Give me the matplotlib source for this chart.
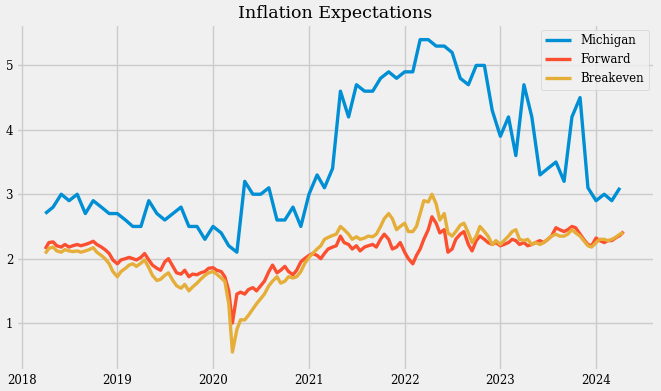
import matplotlib
matplotlib.use('Agg')
import matplotlib.pyplot as plt
import pandas as pd

# University of Michigan 1-year inflation expectations, monthly Apr 2018 - Apr 2024
michigan = [2.7, 2.8, 3.0, 2.9, 3.0, 2.7, 2.9, 2.8, 2.7,
            2.7, 2.6, 2.5, 2.5, 2.9, 2.7, 2.6, 2.7, 2.8, 2.5, 2.5, 2.3,
            2.5, 2.4, 2.2, 2.1, 3.2, 3.0, 3.0, 3.1, 2.6, 2.6, 2.8, 2.5,
            3.0, 3.3, 3.1, 3.4, 4.6, 4.2, 4.7, 4.6, 4.6, 4.8, 4.9, 4.8,
            4.9, 4.9, 5.4, 5.4, 5.3, 5.3, 5.2, 4.8, 4.7, 5.0, 5.0, 4.3,
            3.9, 4.2, 3.6, 4.7, 4.2, 3.3, 3.4, 3.5, 3.2, 4.2, 4.5, 3.1,
            2.9, 3.0, 2.9, 3.1]
mich_dates = pd.date_range('2018-04-01', periods=len(michigan), freq='MS')

# 5y5y forward inflation, read twice a month (1st and 15th)
forward = [2.15, 2.25, 2.26, 2.20, 2.18, 2.22, 2.18, 2.20, 2.22, 2.20,
           2.22, 2.24, 2.27, 2.22, 2.18, 2.14, 2.08, 1.98,
           1.92, 1.98, 2.00, 2.02, 2.00, 1.98, 2.02, 2.08, 1.98, 1.90,
           1.85, 1.82, 1.95, 2.00, 1.88, 1.78, 1.76, 1.82, 1.72, 1.76,
           1.75, 1.78, 1.80, 1.85,
           1.86, 1.82, 1.80, 1.72, 1.50, 1.00, 1.45, 1.48, 1.45, 1.52,
           1.55, 1.50, 1.58, 1.65, 1.80, 1.90, 1.78, 1.82, 1.88, 1.80,
           1.75, 1.82, 1.95, 2.00,
           2.05, 2.08, 2.05, 2.00, 2.08, 2.15, 2.18, 2.20, 2.35, 2.25,
           2.22, 2.15, 2.20, 2.12, 2.18, 2.20, 2.22, 2.18, 2.30, 2.38,
           2.30, 2.15, 2.18, 2.25,
           2.10, 2.00, 1.92, 2.05, 2.15, 2.30, 2.45, 2.65, 2.55, 2.40,
           2.45, 2.10, 2.15, 2.30, 2.38, 2.42, 2.22, 2.12, 2.28, 2.35,
           2.30, 2.25, 2.22, 2.25,
           2.20, 2.22, 2.25, 2.30, 2.28, 2.22, 2.25, 2.20, 2.22, 2.25,
           2.28, 2.25, 2.30, 2.35, 2.48, 2.45, 2.42, 2.45, 2.50, 2.48,
           2.38, 2.30, 2.22, 2.20,
           2.32, 2.28, 2.25, 2.28, 2.28, 2.32, 2.36, 2.42]

# 10-year breakeven inflation, same dates
breakeven = [2.08, 2.16, 2.18, 2.12, 2.10, 2.14, 2.12, 2.11, 2.12, 2.10,
             2.12, 2.14, 2.17, 2.10, 2.05, 2.00, 1.92, 1.80,
             1.72, 1.80, 1.85, 1.90, 1.92, 1.88, 1.93, 1.98, 1.86, 1.74,
             1.66, 1.68, 1.74, 1.78, 1.66, 1.58, 1.54, 1.60, 1.50, 1.56,
             1.62, 1.68, 1.74, 1.78,
             1.80, 1.76, 1.70, 1.65, 1.30, 0.55, 0.90, 1.05, 1.05, 1.12,
             1.22, 1.30, 1.38, 1.45, 1.58, 1.65, 1.72, 1.62, 1.65, 1.72,
             1.70, 1.72, 1.80, 1.92,
             2.02, 2.08, 2.15, 2.20, 2.30, 2.33, 2.36, 2.38, 2.50, 2.45,
             2.38, 2.30, 2.34, 2.30, 2.32, 2.35, 2.34, 2.38, 2.50, 2.62,
             2.70, 2.62, 2.45, 2.50,
             2.55, 2.42, 2.42, 2.50, 2.70, 2.90, 2.88, 3.00, 2.85, 2.60,
             2.70, 2.40, 2.35, 2.42, 2.52, 2.55, 2.40, 2.25, 2.35, 2.50,
             2.42, 2.35, 2.22, 2.28,
             2.22, 2.28, 2.35, 2.42, 2.45, 2.30, 2.28, 2.30, 2.22, 2.25,
             2.22, 2.25, 2.30, 2.35, 2.38, 2.35, 2.35, 2.38, 2.45, 2.40,
             2.35, 2.28, 2.20, 2.18,
             2.25, 2.30, 2.30, 2.28, 2.30, 2.33, 2.38, 2.40]
daily_dates = pd.date_range('2018-04-01', periods=len(forward), freq='SMS')

plt.style.use('fivethirtyeight')
plt.rcParams['font.family'] = 'serif'

fig = plt.figure(figsize=(6.61, 3.91), dpi=100)
ax = fig.add_axes([0.024, 0.051, 0.967, 0.888])
ax.plot(mich_dates, michigan, label='Michigan', lw=2.4)
ax.plot(daily_dates, forward, label='Forward', lw=2.4)
ax.plot(daily_dates, breakeven, label='Breakeven', lw=2.4)
ax.set_title('Inflation Expectations', fontsize=12.5, pad=4)
ax.set_xlim(pd.Timestamp('2017-12-10'), pd.Timestamp('2024-08-13'))
ax.set_ylim(0.255, 5.645)
ax.set_yticks([1, 2, 3, 4, 5])
ax.tick_params(labelsize=8.5, pad=2)
ax.legend(loc='upper right', fontsize=8.5, handlelength=2.2)
fig.savefig('out.png', dpi=100)
